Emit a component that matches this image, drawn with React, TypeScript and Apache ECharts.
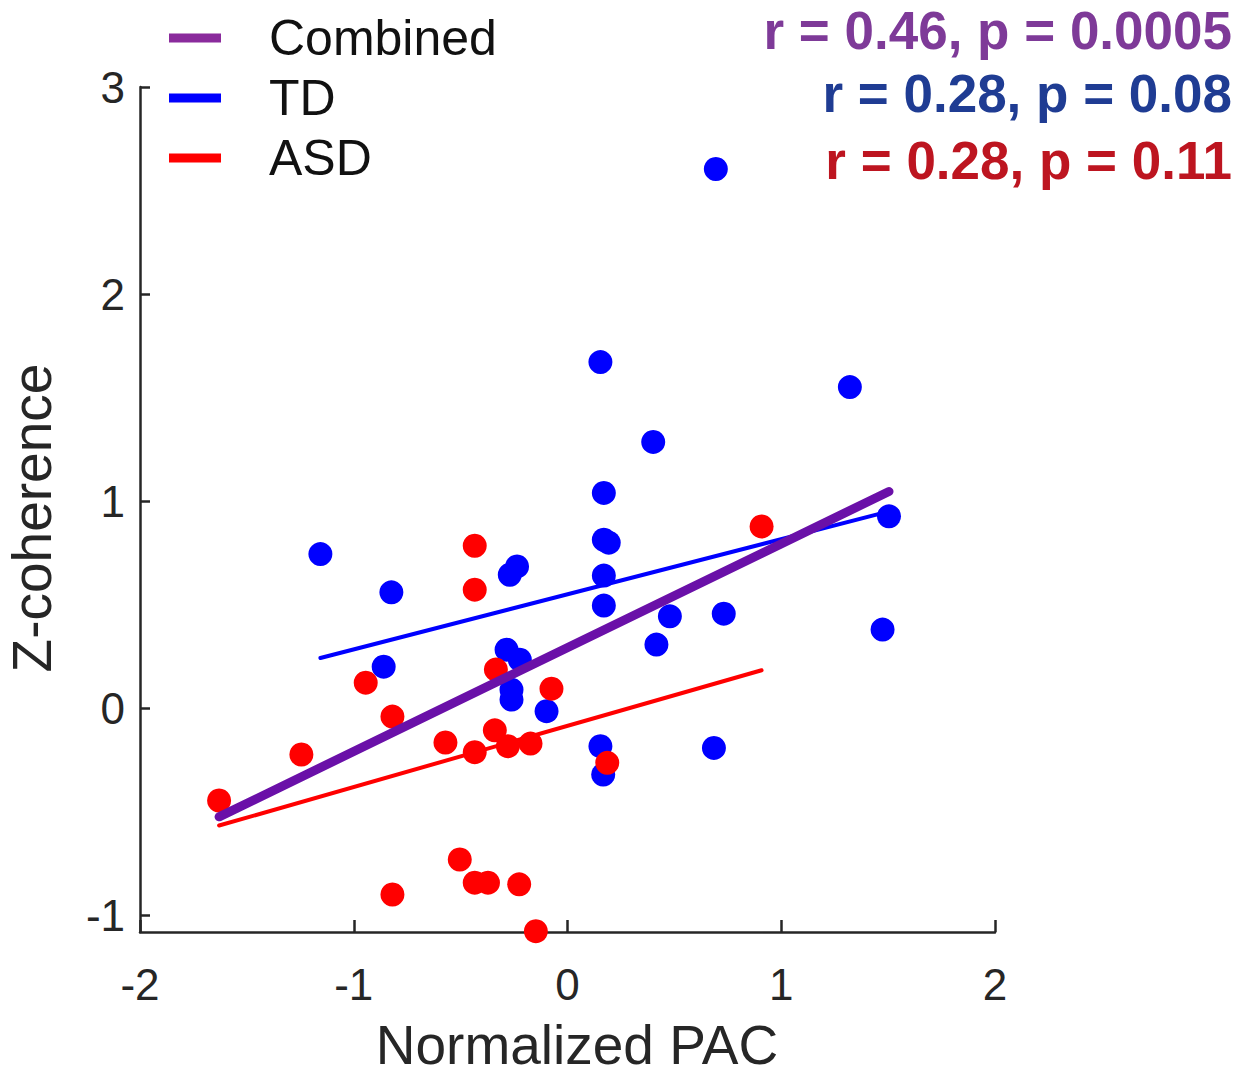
import React, { useEffect, useRef } from "react";
import * as echarts from "echarts";

// ---- Data ----
const tdPAC = [0.694, 0.154, 1.321, 0.401, 0.17, 1.504, 0.17, 0.193, -1.156, -0.824, -0.27, -0.236, 0.17, 0.17, 0.479, 0.731, 0.416, 1.474, -0.86, -0.285, -0.223, -0.262, -0.262, -0.098, 0.154, 0.167, 0.685];
const tdCoh = [2.604, 1.672, 1.551, 1.286, 1.04, 0.927, 0.814, 0.8, 0.745, 0.56, 0.645, 0.685, 0.641, 0.496, 0.444, 0.457, 0.308, 0.38, 0.201, 0.283, 0.235, 0.09, 0.042, -0.014, -0.183, -0.32, -0.191];

const asdPAC = [0.908, -0.434, -0.434, -0.944, -0.335, -0.075, -0.819, -1.245, -0.571, -0.434, -0.34, -0.279, -0.173, 0.186, -1.63, -0.504, -0.434, -0.372, -0.226, -0.819, -0.148];
const asdCoh = [0.878, 0.785, 0.573, 0.124, 0.187, 0.095, -0.04, -0.223, -0.165, -0.212, -0.106, -0.183, -0.17, -0.263, -0.445, -0.73, -0.842, -0.842, -0.85, -0.899, -1.076];

// regression line endpoints
const combinedFitX = [-1.63, 1.504];
const combinedFitY = [-0.524, 1.047];
const tdFitX = [-1.156, 1.504];
const tdFitY = [0.243, 0.951];
const asdFitX = [-1.63, 0.908];
const asdFitY = [-0.566, 0.184];

const xTicks = [-2, -1, 0, 1, 2];
const yTicks = [-1, 0, 1, 2, 3];

const stats = [
  { text: "r = 0.46, p = 0.0005", color: "#7E3A98" },
  { text: "r = 0.28, p = 0.08", color: "#1F3C93" },
  { text: "r = 0.28, p = 0.11", color: "#BD1520" },
];

const FONT = "'Liberation Sans', Arial, Helvetica, sans-serif";
const AXIS_COLOR = "#262626";

const zip = (a: number[], b: number[]) => a.map((v, i) => [v, b[i]]);

export default function App() {
  const ref = useRef<HTMLDivElement>(null);
  useEffect(() => {
    if (!ref.current) return;
    const chart = echarts.init(ref.current, undefined, { renderer: "svg" });
    const statY = [30, 93, 160];
    chart.setOption({
      animation: false,
      backgroundColor: "#ffffff",
      grid: { left: 140, top: 87, right: 257, bottom: 143, containLabel: false },
      legend: {
        orient: "vertical",
        left: 169,
        top: 10,
        padding: 0,
        itemGap: 4,
        itemWidth: 52,
        itemHeight: 9,
        icon: "rect",
        selectedMode: false,
        data: [
          { name: "Combined", itemStyle: { color: "#8A2B9C" } },
          { name: "TD", itemStyle: { color: "#0000FF" } },
          { name: "ASD", itemStyle: { color: "#FF0000" } },
        ],
        textStyle: {
          fontSize: 50,
          fontFamily: FONT,
          color: "#111111",
          lineHeight: 56,
          padding: [0, 0, 0, 43],
        },
      },
      xAxis: {
        type: "value",
        min: -2,
        max: 2,
        interval: 1,
        axisLine: { show: true, onZero: false, lineStyle: { color: AXIS_COLOR, width: 2.5 } },
        axisTick: { show: true, inside: true, length: 12, lineStyle: { color: AXIS_COLOR, width: 2.5 }, customValues: xTicks },
        axisLabel: { fontSize: 44, fontFamily: FONT, color: AXIS_COLOR, margin: 30, customValues: xTicks },
        splitLine: { show: false },
      },
      yAxis: {
        type: "value",
        min: -1.08,
        max: 3,
        axisLine: { show: true, onZero: false, lineStyle: { color: AXIS_COLOR, width: 2.5 } },
        axisTick: { show: true, inside: true, length: 10, lineStyle: { color: AXIS_COLOR, width: 2.5 }, customValues: yTicks },
        axisLabel: { fontSize: 44, fontFamily: FONT, color: AXIS_COLOR, margin: 15, customValues: yTicks },
        splitLine: { show: false },
      },
      graphic: [
        {
          type: "text",
          x: 577,
          y: 1045,
          style: { text: "Normalized PAC", font: `55px ${FONT}`, lineHeight: 50, fill: AXIS_COLOR, align: "center", verticalAlign: "middle" },
        },
        {
          type: "text",
          x: 32,
          y: 518,
          rotation: Math.PI / 2,
          style: { text: "Z-coherence", font: `55px ${FONT}`, lineHeight: 50, fill: AXIS_COLOR, align: "center", verticalAlign: "middle" },
        },
        ...stats.map((s, i) => ({
          type: "text",
          x: 1232,
          y: statY[i],
          style: { text: s.text, font: `bold 53px ${FONT}`, lineHeight: 56, fill: s.color, align: "right", verticalAlign: "middle" },
        })),
      ],
      series: [
        {
          name: "TD points",
          type: "scatter",
          data: zip(tdPAC, tdCoh),
          symbol: "circle",
          symbolSize: 24,
          itemStyle: { color: "#0000FF", opacity: 1 },
        },
        {
          name: "ASD points",
          type: "scatter",
          data: zip(asdPAC, asdCoh),
          symbol: "circle",
          symbolSize: 24,
          itemStyle: { color: "#FF0000", opacity: 1 },
        },
        {
          name: "TD",
          type: "line",
          data: zip(tdFitX, tdFitY),
          showSymbol: false,
          color: "#0000FF",
          lineStyle: { color: "#0000FF", width: 4, cap: "round" },
        },
        {
          name: "ASD",
          type: "line",
          data: zip(asdFitX, asdFitY),
          showSymbol: false,
          color: "#FF0000",
          lineStyle: { color: "#FF0000", width: 4, cap: "round" },
        },
        {
          name: "Combined",
          type: "line",
          data: zip(combinedFitX, combinedFitY),
          showSymbol: false,
          color: "#6A10A8",
          lineStyle: { color: "#6A10A8", width: 9, cap: "round" },
        },
      ],
    });
    return () => chart.dispose();
  }, []);
  return (
    <div
      ref={ref}
      style={{ position: "absolute", left: 0, top: 0, width: 1252, height: 1075, background: "#fff" }}
    />
  );
}
